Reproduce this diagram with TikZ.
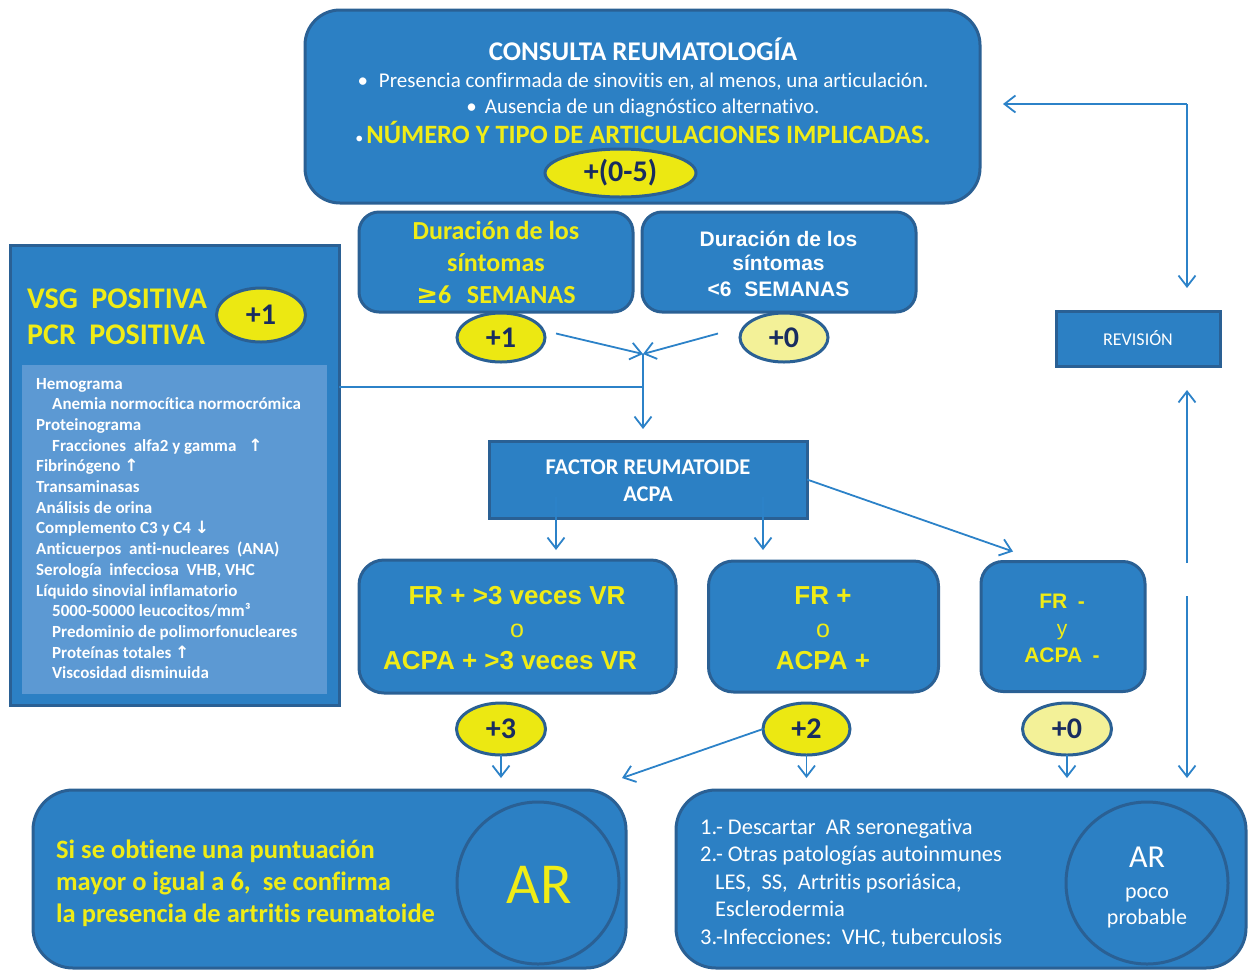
\documentclass[tikz,border=0pt]{standalone}
\usepackage{fontspec}
\setmainfont{Carlito}[RawFeature={-liga;-clig;-dlig}]
\newfontfamily\arialfont{Liberation Sans}
\newfontfamily\symfont{DejaVu Sans}
\usetikzlibrary{arrows.meta,shapes.geometric}

\definecolor{boxblue}{RGB}{44,128,196}
\definecolor{edgeblue}{RGB}{42,96,148}
\definecolor{paleblue}{RGB}{92,153,211}
\definecolor{txtyellow}{RGB}{240,236,22}
\definecolor{ovalyellow}{RGB}{236,232,18}
\definecolor{paleyellow}{RGB}{243,241,152}
\definecolor{ovaltext}{RGB}{24,44,96}
\definecolor{linkblue}{RGB}{44,130,200}

\newcommand{\setfs}[1]{\fontsize{#1}{#1}\selectfont}

\begin{document}
\begin{tikzpicture}[x=1pt, y=-1pt,
    panel/.style={draw=edgeblue, fill=boxblue, line width=3pt, inner sep=0pt, outer sep=0pt},
    card/.style={panel, rounded corners=#1}, card/.default=22pt,
    oval/.style={ellipse, draw=edgeblue, fill=ovalyellow, line width=3pt, inner sep=0pt, outer sep=0pt, text=ovaltext, font=\bfseries\setfs{30}},
    link/.style={draw=linkblue, line width=1.8pt, -{Straight Barb[length=11pt, width=17pt]}},
    wtxt/.style={anchor=base, text=white, inner sep=0pt},
    ytxt/.style={anchor=base, text=txtyellow, inner sep=0pt}]
    \useasboundingbox (0,0) rectangle (1249,970);

    % consulta
    \node[card=35pt, minimum width=675pt, minimum height=193pt] (consulta) at (642.5,106.5) {};
    \node[wtxt, font=\bfseries\setfs{27}] (titulo) at (643,60) {CONSULTA REUMATOLOGÍA};
    \node[wtxt, font=\setfs{21}] (crit1) at (643,87) {•\hspace{11pt}Presencia confirmada de sinovitis en, al menos, una articulación.};
    \node[wtxt, font=\setfs{21}] (crit2) at (643,113) {•\hspace{8pt}Ausencia de un diagnóstico alternativo.};
    \node[ytxt, font=\bfseries\setfs{26.5}] (crit3) at (643,143) {\textcolor{white}{\mdseries\setfs{16}•}\hspace{3pt}NÚMERO Y TIPO DE ARTICULACIONES IMPLICADAS.};
    \node[oval, minimum width=151pt, minimum height=48pt] (pts05) at (620.5,173) {+(0-5)};

    % duracion
    \node[card=20pt, minimum width=274pt, minimum height=100pt] (dlarga) at (496,262) {};
    \node[card=20pt, minimum width=274pt, minimum height=100pt] (dcorta) at (779,262) {};
    \node[ytxt, font=\bfseries\setfs{26}] (dl1) at (496,239) {Duración de los};
    \node[ytxt, font=\bfseries\setfs{26}] (dl2) at (496,271) {síntomas};
    \node[ytxt, font=\bfseries\setfs{26}] (dl3) at (496,303) {{\symfont ≥}6\hspace{0.6em}SEMANAS};
    \node[wtxt, font=\arialfont\bfseries\setfs{21}] (dc1) at (778.5,246) {Duración de los};
    \node[wtxt, font=\arialfont\bfseries\setfs{21}] (dc2) at (778.5,270) {síntomas};
    \node[wtxt, font=\arialfont\bfseries\setfs{21}] (dc3) at (778.5,296) {<6\hspace{0.6em}SEMANAS};
    \node[oval, minimum width=88pt, minimum height=49pt] (pts1) at (501,337.5) {+1};
    \node[oval, fill=paleyellow, minimum width=88pt, minimum height=49pt] (pts0) at (784,337.5) {+0};

    % laboratorio
    \node[panel, minimum width=329pt, minimum height=460pt] (lab) at (174.5,475) {};
    \node[fill=paleblue, inner sep=0pt, minimum width=305pt, minimum height=329pt] (labin) at (174.5,529.5) {};
    \node[ytxt, anchor=base west, font=\bfseries\setfs{30}] (vsg) at (27,308) {VSG\hspace{0.45em}POSITIVA};
    \node[ytxt, anchor=base west, font=\bfseries\setfs{30}] (pcr) at (27,344) {PCR\hspace{0.45em}POSITIVA};
    \node[oval, minimum width=89pt, minimum height=54pt] (pts1b) at (261,315) {+1};
    \foreach \x/\t [count=\i from 0] in {36/Hemograma, 52/Anemia normocítica normocrómica, 36/Proteinograma,
        52/Fracciones\ \ alfa2 y gamma\hspace{0.7em}{\symfont ↑}, 36/Fibrinógeno {\symfont ↑}, 36/Transaminasas,
        36/Análisis de orina, 36/Complemento C3 y C4 {\symfont ↓}, 36/Anticuerpos\ \ anti-nucleares\ \ (ANA),
        36/{Serología\ \ infecciosa\ \ VHB, VHC}, 36/Líquido sinovial inflamatorio, 52/{5000-50000 leucocitos/mm³},
        52/Predominio de polimorfonucleares, 52/Proteínas totales {\symfont ↑}, 52/Viscosidad disminuida}
        \node[wtxt, anchor=base west, font=\bfseries\setfs{17}] (lab\i) at (\x,{389+20.71*\i}) {\t};

    % union
    \coordinate (merge) at (643,354);
    \coordinate (labjoin) at (643,387);
    \coordinate (facin) at (643,429);
    \draw[link] ([shift={(11pt,4pt)}]pts1.east) -- (merge);
    \draw[link] ([shift={(-22pt,4pt)}]pts0.west) -- (merge);
    \draw[link] (merge) -- (facin);
    \draw[draw=linkblue, line width=1.8pt] (lab.east |- labjoin) -- (labjoin);

    % factor reumatoide
    \node[panel, minimum width=318pt, minimum height=77pt] (factor) at (648,479.5) {};
    \node[wtxt, font=\bfseries\setfs{22.5}] (factor1) at (648,474) {FACTOR REUMATOIDE};
    \node[wtxt, font=\bfseries\setfs{22.5}] (factor2) at (648,501) {ACPA};

    \node[card=25pt, minimum width=317pt, minimum height=133pt] (frtres) at (517.5,626.5) {};
    \node[card=25pt, minimum width=230pt, minimum height=131pt] (frpos) at (823.5,626.5) {};
    \node[card=22pt, minimum width=164pt, minimum height=130pt] (frneg) at (1063,626.5) {};
    \node[ytxt, font=\arialfont\bfseries\setfs{26}] (ft1) at (517,604) {FR + >3 veces VR};
    \node[ytxt, font=\arialfont\setfs{25}] (ft2) at (517,637) {o};
    \node[ytxt, font=\arialfont\bfseries\setfs{26}] (ft3) at (510,669) {ACPA + >3 veces VR};
    \node[ytxt, font=\arialfont\bfseries\setfs{26}] (fp1) at (823,604) {FR +};
    \node[ytxt, font=\arialfont\setfs{25}] (fp2) at (823,637) {o};
    \node[ytxt, font=\arialfont\bfseries\setfs{26}] (fp3) at (823,669) {ACPA +};
    \node[ytxt, font=\arialfont\bfseries\setfs{21}] (fn1) at (1062,608) {FR\hspace{0.5em}-};
    \node[ytxt, font=\arialfont\setfs{21}] (fn2) at (1062,635) {y};
    \node[ytxt, font=\arialfont\bfseries\setfs{21}] (fn3) at (1062,662) {ACPA\hspace{0.5em}-};
    \draw[link] ([shift={(-92pt,-17.5pt)}]factor.center) -- ([shift={(38.5pt,10pt)}]frtres.north);
    \draw[link] ([shift={(115pt,-17.5pt)}]factor.center) -- ([shift={(-60.5pt,11pt)}]frpos.north);
    \draw[link] (factor.east) -- ([shift={(-50pt,10pt)}]frneg.north);

    \node[oval, minimum width=89pt, minimum height=52pt] (pts3) at (501,729) {+3};
    \node[oval, minimum width=87pt, minimum height=52pt] (pts2) at (806.5,729) {+2};
    \node[oval, fill=paleyellow, minimum width=89pt, minimum height=52pt] (pts0b) at (1067,729) {+0};

    % resultado
    \node[card=40pt, minimum width=593pt, minimum height=178pt] (ar) at (329.5,879) {};
    \node[card=40pt, minimum width=570pt, minimum height=178pt] (noar) at (961,879) {};
    \node[circle, draw=edgeblue, line width=3pt, minimum size=162pt, inner sep=0pt] (arcirc) at (538,883) {};
    \node[circle, draw=edgeblue, line width=3pt, minimum size=162pt, inner sep=0pt] (noarcirc) at (1147,883) {};
    \foreach \t [count=\i from 0] in {Si se obtiene una puntuación, {mayor o igual a 6,\ \ se confirma}, la presencia de artritis reumatoide}
        \node[ytxt, anchor=base west, font=\bfseries\setfs{26.5}] (sum\i) at (56,{858+32*\i}) {\t};
    \node[ytxt, font=\setfs{58}] (artxt) at (539,903) {AR};
    \foreach \x/\t [count=\i from 0] in {700/1.- Descartar\ \ AR seronegativa, 700/2.- Otras patologías autoinmunes,
        715/{LES,\ \ SS,\ \ Artritis psoriásica,}, 715/Esclerodermia, 700/{3.-Infecciones:\ \ VHC, tuberculosis}}
        \node[wtxt, anchor=base west, font=\setfs{22.5}] (otr\i) at (\x,{834+27.5*\i}) {\t};
    \node[wtxt, font=\setfs{32}] (noar1) at (1147,867) {AR};
    \node[wtxt, font=\setfs{22}] (noar2) at (1147,898) {poco};
    \node[wtxt, font=\setfs{22}] (noar3) at (1147,924) {probable};
    \draw[link] (pts3.south) -- ([yshift=-23pt]pts3.south);
    \draw[link] (pts2.south) -- ([yshift=-23pt]pts2.south);
    \draw[link] (pts0b.south) -- ([yshift=-23pt]pts0b.south);
    \draw[link] (pts2.west) -- ([shift={(-4pt,12pt)}]ar.north east);

    % revision
    \node[panel, minimum width=164pt, minimum height=55pt] (revision) at (1138,338.5) {};
    \node[wtxt, font=\setfs{18}] (revtxt) at (1138,345) {REVISIÓN};
    \coordinate (revtop) at (1187,104);
    \coordinate (back) at (1003,104);
    \coordinate (revin) at (1187,288);
    \coordinate (revout) at (1187,390);
    \coordinate (revlow) at (1187,563);
    \coordinate (gap) at (1187,596);
    \coordinate (nobj) at (1187,778);
    \draw[link] (revtop) -- (back);
    \draw[link] (revtop) -- (revin);
    \draw[link] (revlow) -- (revout);
    \draw[link] (gap) -- (nobj);
\end{tikzpicture}
\end{document}
